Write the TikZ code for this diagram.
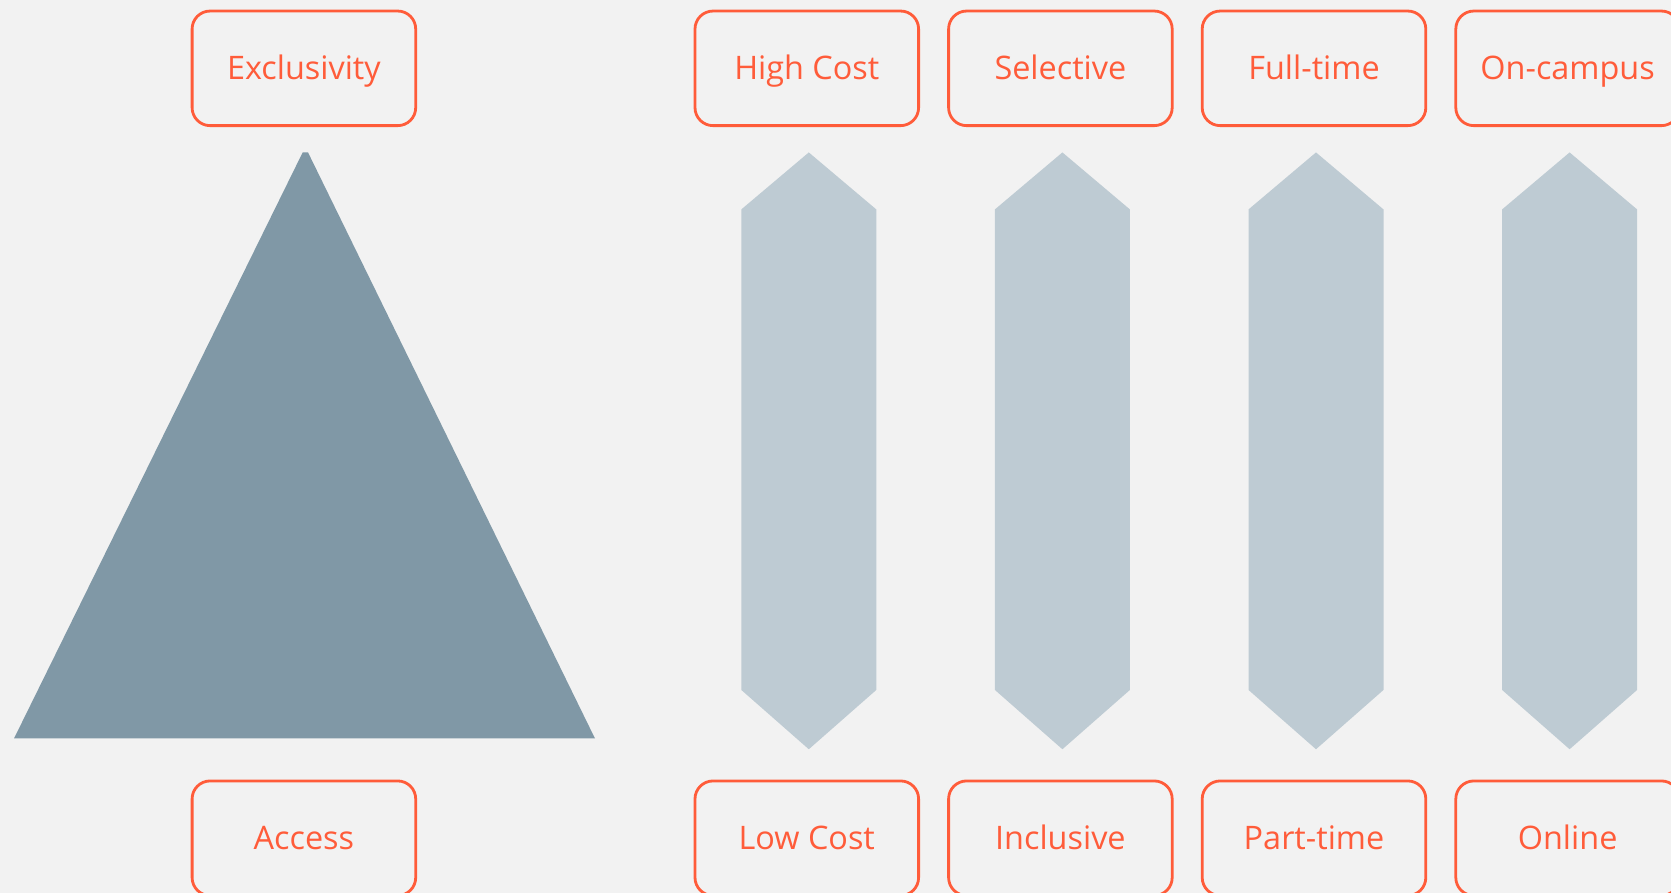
\documentclass[tikz,border=0pt]{standalone}
\usepackage{fontspec}
\setmainfont{Open Sans}
\usepackage{tikz}
\usetikzlibrary{positioning}
\definecolor{accent}{HTML}{FF5C3A}
\definecolor{slate}{HTML}{8098A6}
\definecolor{mist}{HTML}{BECBD3}
\definecolor{paper}{HTML}{F2F2F2}
\tikzstyle{box} = [rectangle, rounded corners=9pt, minimum width=111.8pt, minimum height=57.3pt, outer sep=0pt, draw=accent, line width=1.4pt, text=accent, text height=15.6pt, text depth=4pt, font=\fontsize{16.2}{19}\selectfont]
\tikzstyle{shaft} = [fill=mist]

\begin{document}
\begin{tikzpicture}[x=0.5pt, y=0.5pt, node distance=15pt]
  \fill[paper] (0,0) rectangle (1671,893);
  \useasboundingbox (0,0) rectangle (1671,893);

  % pyramid
  \fill[slate] (14,154.5) -- (302.7,740.6) -- (308,740.6) -- (595,154.5) -- cycle;
  \node[box] (excl) at (303.9,824.65) {Exclusivity};
  \node[box, below=327.65pt of excl] (access) {Access};

  % top row
  \node[box] (high) at (806.8,824.65) {High Cost};
  \node[box, right=of high] (sel) {Selective};
  \node[box, right=of sel] (full) {Full-time};
  \node[box, right=of full] (camp) {On-campus};

  % bottom row
  \node[box, below=327.65pt of high] (low) {Low Cost};
  \node[box, below=327.65pt of sel] (incl) {Inclusive};
  \node[box, below=327.65pt of full] (part) {Part-time};
  \node[box, below=327.65pt of camp] (online) {Online};

  % double-headed bars
  \foreach \n in {high,sel,full,camp}
    \fill[shaft] (\n.south) ++(2,-26.8) -- ++(67.5,-57) -- ++(0,-480.5) -- ++(-67.5,-59.3) -- ++(-67.5,59.3) -- ++(0,480.5) -- cycle;
\end{tikzpicture}
\end{document}
